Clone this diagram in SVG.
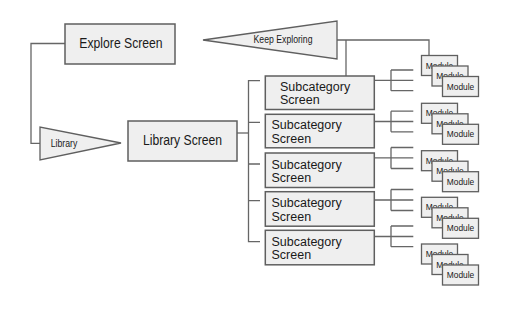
<svg xmlns="http://www.w3.org/2000/svg" width="524" height="320" viewBox="0 0 524 320">
<style>
.box{fill:#efefef;stroke:#5f5f5f;stroke-width:1.5}
.tri{fill:#efefef;stroke:#5f5f5f;stroke-width:1.3}
.mod{fill:#efefef;stroke:#5f5f5f;stroke-width:1.3}
.ln{fill:none;stroke:#666;stroke-width:1.3}
text{font-family:"Liberation Sans",Arial,sans-serif;fill:#1a1a1a}
.big{font-size:12.2px}
.sub{font-size:12.5px}
.sm{font-size:8.7px}
.ms{font-size:8.4px}
</style>
<rect width="524" height="320" fill="#fff"/>
<g id="connectors">
<path class="ln" d="M65,43.5 H31 V143.3 H40"/>
<path class="ln" d="M337,40 H429 V55.5"/>
<path class="ln" d="M346,40 V76"/>
<path class="ln" d="M237,133 H248.5"/>
<path class="ln" d="M260,80.7 H248.5 V241.7 H260 M248.5,122.3 H260 M248.5,164 H260 M248.5,200.7 H260"/>
<path class="ln" d="M375,80.3 H413.3 M391,70 V90.7 M391,70 H413.3 M391,90.7 H413.3"/>
<path class="ln" d="M375,121.5 H413.3 M391,111.2 V131.8 M391,111.2 H413.3 M391,131.8 H413.3"/>
<path class="ln" d="M375,157.8 H413.3 M391,147.5 V168.5 M391,147.5 H413.3 M391,168.5 H413.3"/>
<path class="ln" d="M375,200 H413.3 M391,189.5 V210.5 M391,189.5 H413.3 M391,210.5 H413.3"/>
<path class="ln" d="M375,236.5 H413.3 M391,226 V246.7 M391,226 H413.3 M391,246.7 H413.3"/>
</g>
<g id="explore-screen">
<rect class="box" x="65" y="24" width="110" height="40"/>
<text class="big" transform="translate(121 48.3) scale(1 1.15)" text-anchor="middle">Explore Screen</text>
</g>
<g id="keep-exploring">
<polygon class="tri" points="203,40 337,21 337,59"/>
<text class="sm" transform="translate(283 43) scale(1 1.15)" text-anchor="middle">Keep Exploring</text>
</g>
<g id="library">
<polygon class="tri" points="40,127 40,160 121,143"/>
<text class="sm" transform="translate(64 146.5) scale(1 1.15)" text-anchor="middle">Library</text>
</g>
<g id="library-screen">
<rect class="box" x="128" y="121" width="109" height="40"/>
<text class="big" transform="translate(182.5 145) scale(1 1.15)" text-anchor="middle">Library Screen</text>
</g>
<g id="subcategory-1">
<rect class="box" x="265.3" y="76" width="109" height="33.5"/>
<text class="sub" x="280" y="90.7">Subcategory</text>
<text class="sub" x="280" y="104.3">Screen</text>
</g>
<g id="subcategory-2">
<rect class="box" x="265.3" y="114.3" width="109" height="33.5"/>
<text class="sub" x="271.5" y="129.3">Subcategory</text>
<text class="sub" x="271.5" y="143">Screen</text>
</g>
<g id="subcategory-3">
<rect class="box" x="265.3" y="153" width="109" height="34.5"/>
<text class="sub" x="271.5" y="168.5">Subcategory</text>
<text class="sub" x="271.5" y="182">Screen</text>
</g>
<g id="subcategory-4">
<rect class="box" x="265.3" y="191.7" width="109" height="34.5"/>
<text class="sub" x="271.5" y="207">Subcategory</text>
<text class="sub" x="271.5" y="220.7">Screen</text>
</g>
<g id="subcategory-5">
<rect class="box" x="265.3" y="230.3" width="109" height="34.5"/>
<text class="sub" x="271.5" y="245.7">Subcategory</text>
<text class="sub" x="271.5" y="259.3">Screen</text>
</g>
<g id="modules-1">
<rect class="mod" x="421.5" y="55.5" width="36" height="20"/><text class="ms" x="439.5" y="68.5" text-anchor="middle">Module</text>
<rect class="mod" x="432" y="66" width="36" height="20"/><text class="ms" x="450" y="79" text-anchor="middle">Module</text>
<rect class="mod" x="442.5" y="76.5" width="36" height="20"/><text class="ms" x="460.5" y="89.5" text-anchor="middle">Module</text>
</g>
<g id="modules-2">
<rect class="mod" x="421.5" y="103.3" width="36" height="20"/><text class="ms" x="439.5" y="116.3" text-anchor="middle">Module</text>
<rect class="mod" x="432" y="113.8" width="36" height="20"/><text class="ms" x="450" y="126.8" text-anchor="middle">Module</text>
<rect class="mod" x="442.5" y="124.3" width="36" height="20"/><text class="ms" x="460.5" y="137.3" text-anchor="middle">Module</text>
</g>
<g id="modules-3">
<rect class="mod" x="421.5" y="150.7" width="36" height="20"/><text class="ms" x="439.5" y="163.7" text-anchor="middle">Module</text>
<rect class="mod" x="432" y="161.2" width="36" height="20"/><text class="ms" x="450" y="174.2" text-anchor="middle">Module</text>
<rect class="mod" x="442.5" y="171.7" width="36" height="20"/><text class="ms" x="460.5" y="184.7" text-anchor="middle">Module</text>
</g>
<g id="modules-4">
<rect class="mod" x="421.5" y="197.3" width="36" height="20"/><text class="ms" x="439.5" y="210.3" text-anchor="middle">Module</text>
<rect class="mod" x="432" y="207.8" width="36" height="20"/><text class="ms" x="450" y="220.8" text-anchor="middle">Module</text>
<rect class="mod" x="442.5" y="218.3" width="36" height="20"/><text class="ms" x="460.5" y="231.3" text-anchor="middle">Module</text>
</g>
<g id="modules-5">
<rect class="mod" x="421.5" y="244" width="36" height="20"/><text class="ms" x="439.5" y="257" text-anchor="middle">Module</text>
<rect class="mod" x="432" y="254.5" width="36" height="20"/><text class="ms" x="450" y="267.5" text-anchor="middle">Module</text>
<rect class="mod" x="442.5" y="265" width="36" height="20"/><text class="ms" x="460.5" y="278" text-anchor="middle">Module</text>
</g>
</svg>
